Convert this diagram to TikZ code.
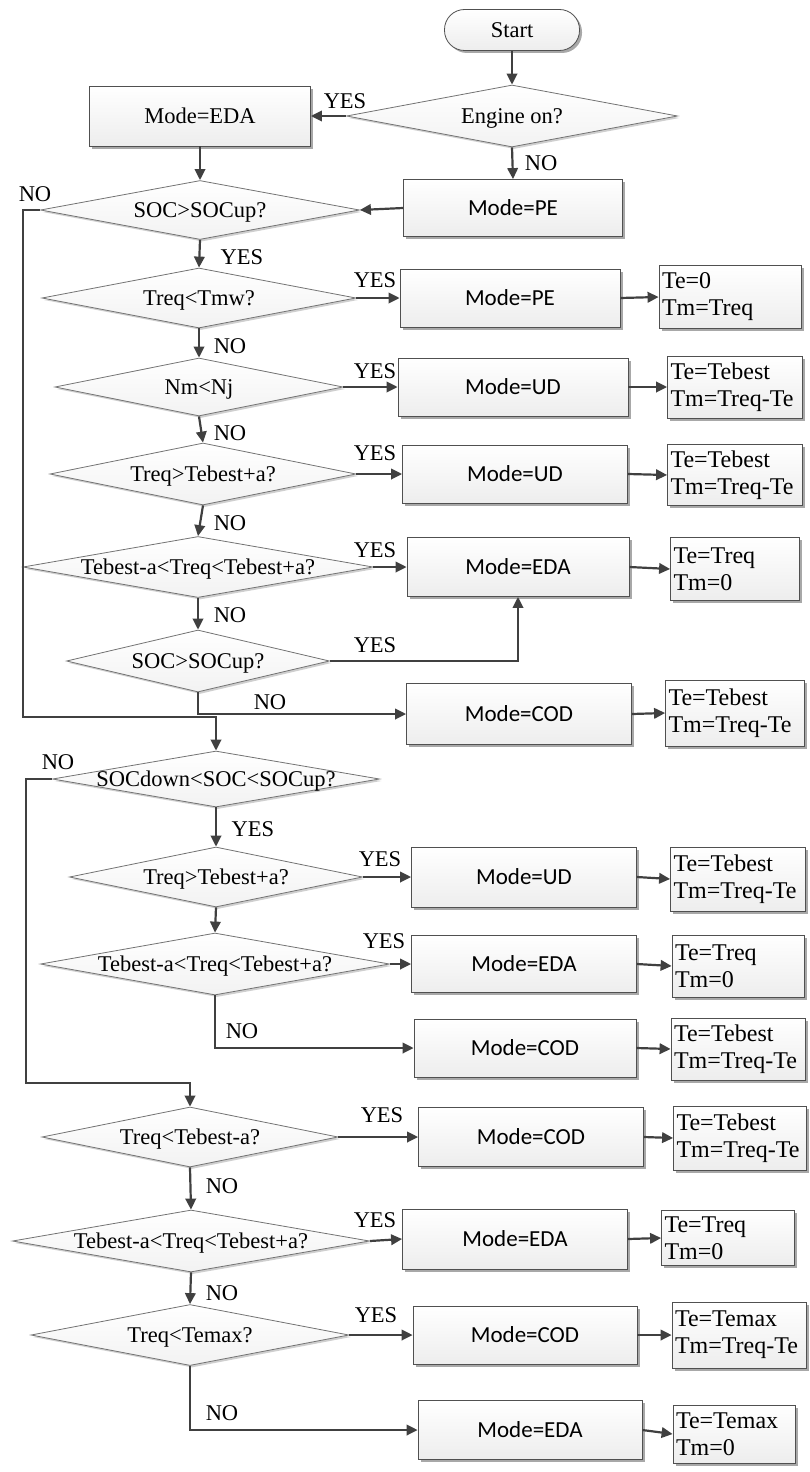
\documentclass[tikz,border=0pt]{standalone}
\usepackage{fontspec}
\setmainfont{Liberation Serif}
\newfontfamily\modefont{Carlito}
\usetikzlibrary{shapes.geometric,arrows.meta,shadows}
\definecolor{lc}{HTML}{404040}
\definecolor{bc}{HTML}{505050}
\definecolor{sh}{HTML}{A8A8A8}
\definecolor{shd}{HTML}{CFCFCF}
\begin{document}
\begin{tikzpicture}[x=1pt,y=-1pt,
  every node/.style={font=\fontsize{22.5}{26}\selectfont},
  base/.style={draw=bc, line width=0.8pt, top color=white, bottom color=gray!14,
    drop shadow={shadow xshift=2.5pt, shadow yshift=-2.5pt, fill=sh, opacity=1}},
  startbox/.style={base, rectangle, rounded corners=20pt, minimum width=135pt, minimum height=41pt},
  serifbox/.style={base, rectangle},
  modebox/.style={base, rectangle, font=\modefont\fontsize{23}{26}\selectfont},
  dec/.style={draw=bc!80, line width=0.8pt, top color=white, bottom color=gray!10,
    drop shadow={shadow xshift=2pt, shadow yshift=-2pt, fill=shd, opacity=1},
    diamond, aspect=6, inner sep=0pt, text height=14pt, text depth=0pt},
  tebox/.style={base, rectangle, align=left, inner xsep=3pt, inner ysep=0pt,
    font=\fontsize{24}{27}\selectfont},
  lab/.style={inner sep=0pt},
  conn/.style={draw=lc, line width=2.2pt, -{Triangle[length=11pt,width=10.5pt]}}
]
\useasboundingbox (0,0) rectangle (809,1472);

% ---------- top ----------
\node[startbox] (start) at (512,30) {Start};
\node[dec, minimum width=331pt, minimum height=62pt] (d1) at (512,116) {Engine on?};
\node[serifbox, minimum width=221pt, minimum height=60pt] (b1) at (200,116) {Mode=EDA};
\node[modebox, minimum width=219pt, minimum height=57pt] (b2) at (513,208) {Mode=PE};
\node[dec, minimum width=319pt, minimum height=59pt] (d2) at (200,210) {SOC>SOCup?};

% ---------- column 1 ----------
\node[dec, minimum width=314pt, minimum height=60pt] (d3) at (199,298) {Treq<Tmw?};
\node[dec, minimum width=288pt, minimum height=58pt] (d4) at (199,387) {Nm<Nj};
\node[dec, minimum width=306pt, minimum height=62pt] (d5) at (203,474) {Treq>Tebest+a?};
\node[dec, minimum width=350pt, minimum height=61pt] (d6) at (198,567) {Tebest-a<Treq<Tebest+a?};
\node[dec, minimum width=263pt, minimum height=62pt] (d7) at (198,661) {SOC>SOCup?};

\node[modebox, minimum width=220pt, minimum height=58pt] (m1) at (510,298) {Mode=PE};
\node[modebox, minimum width=230pt, minimum height=58pt] (m2) at (513,387) {Mode=UD};
\node[modebox, minimum width=225pt, minimum height=58pt] (m3) at (515,474) {Mode=UD};
\node[modebox, minimum width=222pt, minimum height=59pt] (m4) at (518,567) {Mode=EDA};
\node[modebox, minimum width=225pt, minimum height=61pt] (m5) at (519,714) {Mode=COD};

\node[tebox, text width=136pt, minimum height=63pt] (t1) at (730,297) {Te=0\\Tm=Treq};
\node[tebox, text width=129pt, minimum height=62pt] (t2) at (735,387) {Te=Tebest\\Tm=Treq-Te};
\node[tebox, text width=129pt, minimum height=61pt] (t3) at (735,475) {Te=Tebest\\Tm=Treq-Te};
\node[tebox, text width=123pt, minimum height=63pt] (t4) at (735,569) {Te=Treq\\Tm=0};
\node[tebox, text width=133pt, minimum height=66pt] (t5) at (735,713) {Te=Tebest\\Tm=Treq-Te};

% ---------- column 2 ----------
\node[dec, minimum width=327pt, minimum height=56pt] (d8) at (216,779) {SOCdown<SOC<SOCup?};
\node[dec, minimum width=293pt, minimum height=60pt] (d9) at (216,877) {Treq>Tebest+a?};
\node[dec, minimum width=349pt, minimum height=62pt] (d10) at (215,964) {Tebest-a<Treq<Tebest+a?};

\node[modebox, minimum width=225pt, minimum height=60pt] (m6) at (524,877) {Mode=UD};
\node[modebox, minimum width=225pt, minimum height=57pt] (m7) at (524,964) {Mode=EDA};
\node[modebox, minimum width=222pt, minimum height=58pt] (m8) at (525,1048) {Mode=COD};

\node[tebox, text width=129pt, minimum height=64pt] (t6) at (738,879) {Te=Tebest\\Tm=Treq-Te};
\node[tebox, text width=126pt, minimum height=62pt] (t7) at (738,966) {Te=Treq\\Tm=0};
\node[tebox, text width=128pt, minimum height=62pt] (t8) at (738,1049) {Te=Tebest\\Tm=Treq-Te};

% ---------- column 3 ----------
\node[dec, minimum width=296pt, minimum height=60pt] (d11) at (190,1137) {Treq<Tebest-a?};
\node[dec, minimum width=357pt, minimum height=62pt] (d12) at (191,1241) {Tebest-a<Treq<Tebest+a?};
\node[dec, minimum width=318pt, minimum height=61pt] (d13) at (190,1335) {Treq<Temax?};

\node[modebox, minimum width=225pt, minimum height=59pt] (m9) at (531,1137) {Mode=COD};
\node[modebox, minimum width=225pt, minimum height=60pt] (m10) at (515,1239) {Mode=EDA};
\node[modebox, minimum width=224pt, minimum height=58pt] (m11) at (525,1335) {Mode=COD};
\node[modebox, minimum width=224pt, minimum height=59pt] (m12) at (530,1430) {Mode=EDA};

\node[tebox, text width=127pt, minimum height=64pt] (t9) at (740,1138) {Te=Tebest\\Tm=Treq-Te};
\node[tebox, text width=127pt, minimum height=55pt] (t10) at (728,1238) {Te=Treq\\Tm=0};
\node[tebox, text width=128pt, minimum height=66pt] (t11) at (739,1335) {Te=Temax\\Tm=Treq-Te};
\node[tebox, text width=116pt, minimum height=58pt] (t12) at (734,1434) {Te=Temax\\Tm=0};

\coordinate (l1) at (23,717);
\coordinate (l2) at (26,1083);

% ---------- connectors ----------
\draw[conn] (start) -- (d1);
\draw[conn] (d1.west) -- (b1.east);
\draw[conn] (d1.south) -- (b2.north);
\draw[conn] (b1.south) -- (d2.north);
\draw[conn] (b2.west) -- (d2.east);
\draw[conn] (d2.south) -- (d3.north);
\draw[conn] (d3.east) -- (m1.west);
\draw[conn] (m1.east) -- (t1.west);
\draw[conn] (d3.south) -- (d4.north);
\draw[conn] (d4.east) -- (m2.west);
\draw[conn] (m2.east) -- (t2.west);
\draw[conn] (d4.south) -- (d5.north);
\draw[conn] (d5.east) -- (m3.west);
\draw[conn] (m3.east) -- (t3.west);
\draw[conn] (d5.south) -- (d6.north);
\draw[conn] (d6.east) -- (m4.west);
\draw[conn] (m4.east) -- (t4.west);
\draw[conn] (d6.south) -- (d7.north);
\draw[conn] (d7.east) -| (m4.south);
\draw[conn] (d7.south) |- (m5.west);
\draw[conn] (m5.east) -- (t5.west);
\draw[conn] (d2.west) -| (l1) -| (d8.north);

\draw[conn] (d8.south) -- (d9.north);
\draw[conn] (d9.east) -- (m6.west);
\draw[conn] (m6.east) -- (t6.west);
\draw[conn] (d9.south) -- (d10.north);
\draw[conn] (d10.east) -- (m7.west);
\draw[conn] (m7.east) -- (t7.west);
\draw[conn] (d10.south) |- (m8.west);
\draw[conn] (m8.east) -- (t8.west);
\draw[conn] (d8.west) -| (l2) -| (d11.north);

\draw[conn] (d11.east) -- (m9.west);
\draw[conn] (m9.east) -- (t9.west);
\draw[conn] (d11.south) -- (d12.north);
\draw[conn] (d12.east) -- (m10.west);
\draw[conn] (m10.east) -- (t10.west);
\draw[conn] (d12.south) -- (d13.north);
\draw[conn] (d13.east) -- (m11.west);
\draw[conn] (m11.east) -- (t11.west);
\draw[conn] (d13.south) |- (m12.west);
\draw[conn] (m12.east) -- (t12.west);

% ---------- labels ----------
\node[lab] (y1) at (345,101) {YES};
\node[lab] (n1) at (541,163) {NO};
\node[lab] (n2) at (35,194) {NO};
\node[lab] (y2) at (242,257) {YES};
\node[lab] (y3) at (375,280) {YES};
\node[lab] (n3) at (230,346) {NO};
\node[lab] (y4) at (375,371) {YES};
\node[lab] (n4) at (230,433) {NO};
\node[lab] (y5) at (375,453) {YES};
\node[lab] (n5) at (230,523) {NO};
\node[lab] (y6) at (375,550) {YES};
\node[lab] (n6) at (230,615) {NO};
\node[lab] (y7) at (375,645) {YES};
\node[lab] (n7) at (270,702) {NO};
\node[lab] (n8) at (58,762) {NO};
\node[lab] (y8) at (253,829) {YES};
\node[lab] (y9) at (380,859) {YES};
\node[lab] (y10) at (384,941) {YES};
\node[lab] (n9) at (242,1031) {NO};
\node[lab] (y11) at (382,1115) {YES};
\node[lab] (n10) at (222,1186) {NO};
\node[lab] (y12) at (375,1220) {YES};
\node[lab] (n11) at (222,1293) {NO};
\node[lab] (y13) at (376,1315) {YES};
\node[lab] (n12) at (222,1413) {NO};
\end{tikzpicture}
\end{document}
